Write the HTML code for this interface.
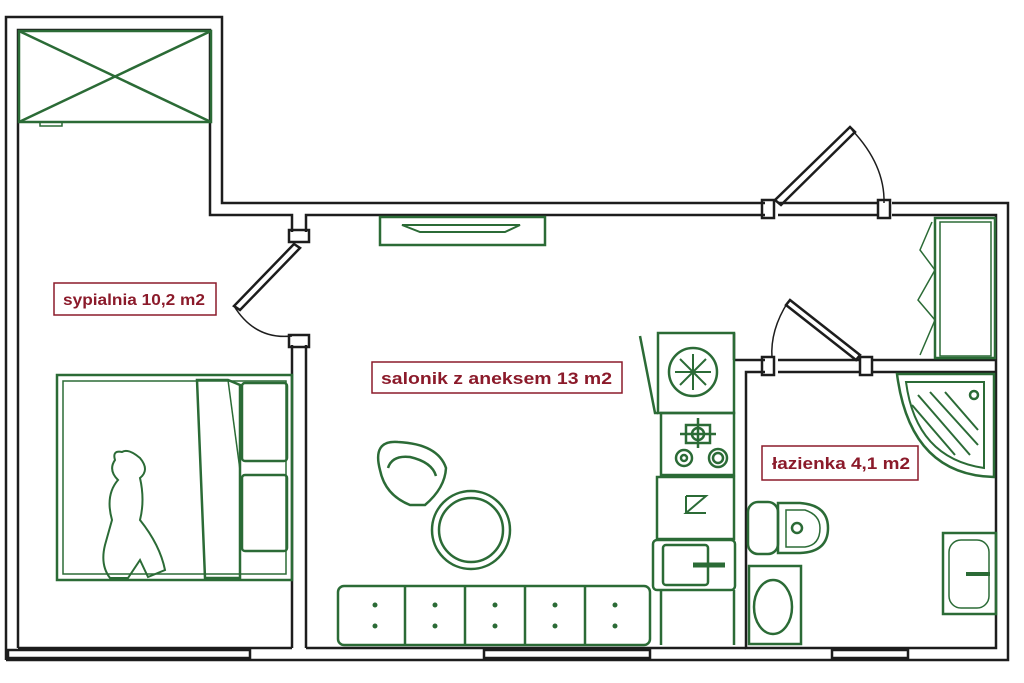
<!DOCTYPE html>
<html><head><meta charset="utf-8"><style>
html,body{margin:0;padding:0;background:#fff;width:1024px;height:683px;overflow:hidden}
svg{display:block}
text{font-family:"Liberation Sans",sans-serif;font-weight:bold;fill:#8b1a2a}
</style></head><body>
<svg width="1024" height="683" viewBox="0 0 1024 683" xmlns="http://www.w3.org/2000/svg">
<g fill="none" stroke="#1d1d1d" stroke-width="2.5">
<polyline points="6,660 6,17 222,17 222,203 765,203"/>
<line x1="778" y1="203" x2="878" y2="203"/>
<polyline points="892,203 1008,203 1008,660 6,660"/>
<polyline points="18,648 18,30 210,30 210,215 292,215 292,232"/>
<line x1="292" y1="345" x2="292" y2="648"/>
<polyline points="306,232 306,215 765,215"/>
<line x1="306" y1="345" x2="306" y2="648"/>
<line x1="778" y1="215" x2="878" y2="215"/>
<polyline points="892,215 996,215 996,648 746,648 746,372 765,372"/>
<line x1="778" y1="360" x2="860" y2="360"/>
<line x1="778" y1="372" x2="860" y2="372"/>
<polyline points="873,360 996,360"/>
<polyline points="873,372 996,372"/>
<line x1="734" y1="333" x2="734" y2="360"/>
<polyline points="734,360 765,360"/>
<line x1="18" y1="648" x2="292" y2="648"/>
<line x1="306" y1="648" x2="746" y2="648"/>
<rect x="289" y="230" width="20" height="12"/><rect x="289" y="335" width="20" height="12"/>
<rect x="762" y="200" width="12" height="18"/><rect x="878" y="200" width="12" height="18"/>
<rect x="762" y="357" width="12" height="18"/><rect x="860" y="357" width="12" height="18"/>
<polygon points="294,244 300,248 240,310 234,306"/>
<path d="M234,306 Q255,340 292,336" stroke-width="1.5"/>
<polygon points="775,200 850,127 855,132 781,205"/>
<path d="M852,130 Q885,165 884,203" stroke-width="1.5"/>
<polygon points="790,300 860,355 856,360 786,305"/>
<path d="M788,302 Q770,330 772,358" stroke-width="1.5"/>
<rect x="8" y="650" width="242" height="8"/>
<rect x="484" y="650" width="166" height="8"/>
<rect x="832" y="650" width="76" height="8"/>
</g>
<g fill="none" stroke="#2b6b36" stroke-width="2.5">
<rect x="19" y="31" width="192" height="91"/>
<line x1="19" y1="31" x2="211" y2="122"/><line x1="211" y1="31" x2="19" y2="122"/>
<rect x="40" y="122" width="22" height="4" stroke-width="1.5"/>
<rect x="57" y="375" width="235" height="205"/>
<rect x="63" y="381" width="223" height="193" stroke-width="1.5"/>
<rect x="242" y="383" width="45" height="78" rx="3"/>
<rect x="242" y="475" width="45" height="76" rx="3"/>
<path d="M197,380 L228,380 L240,385 L240,578 L205,578 Z"/>
<line x1="228" y1="380" x2="240" y2="470" stroke-width="1.5"/>
<path d="M115,460 Q112,450 122,452 Q128,448 140,458 Q150,470 140,478 Q145,500 140,520 Q160,545 165,570 L148,577 L140,560 L128,578 L110,578 Q100,565 105,545 L112,520 Q105,495 118,480 Q108,470 115,460 Z" stroke-width="2"/>
<rect x="380" y="217" width="165" height="28"/>
<path d="M402,225 L520,225 L505,232 L420,232 Z" stroke-width="2"/>
<rect x="935" y="218" width="60" height="140"/>
<rect x="940" y="222" width="51" height="134" stroke-width="1.5"/>
<polyline points="932,222 920,250 935,270 918,300 935,320 920,355" stroke-width="1.5"/>
<rect x="658" y="333" width="76" height="80"/>
<polyline points="640,336 655,413 658,413"/>
<circle cx="693" cy="372" r="24"/>
<g stroke-width="2"><line x1="693" y1="354" x2="693" y2="390"/><line x1="675" y1="372" x2="711" y2="372"/><line x1="680" y1="359" x2="706" y2="385"/><line x1="706" y1="359" x2="680" y2="385"/></g>
<rect x="661" y="413" width="73" height="62"/>
<rect x="686" y="425" width="24" height="18"/><circle cx="698" cy="434" r="6"/>
<line x1="680" y1="434" x2="716" y2="434"/><line x1="698" y1="418" x2="698" y2="448"/>
<circle cx="684" cy="458" r="8"/><circle cx="684" cy="458" r="3"/>
<circle cx="718" cy="458" r="9"/><circle cx="718" cy="458" r="5"/>
<rect x="657" y="477" width="77" height="62"/>
<path d="M686,496 L706,496 L686,513 L706,513 M686,496 L686,513" stroke-width="2"/>
<rect x="653" y="540" width="82" height="50" rx="4"/>
<rect x="663" y="545" width="45" height="40" rx="3"/>
<line x1="693" y1="565" x2="725" y2="565" stroke-width="5"/>
<line x1="661" y1="590" x2="661" y2="645"/><line x1="734" y1="590" x2="734" y2="645"/>
<rect x="338" y="586" width="312" height="59" rx="6"/>
<line x1="405" y1="586" x2="405" y2="645"/><line x1="465" y1="586" x2="465" y2="645"/>
<line x1="525" y1="586" x2="525" y2="645"/><line x1="585" y1="586" x2="585" y2="645"/>
<path d="M380,470 Q372,440 398,442 Q438,444 446,468 Q445,488 425,505 L410,505 Q385,495 380,470 Z"/>
<path d="M388,468 Q392,455 410,457 Q432,462 436,476"/>
<circle cx="471" cy="530" r="39"/><circle cx="471" cy="530" r="32"/>
<path d="M897,374 L994,374 L994,477 Q910,475 897,374 Z"/>
<path d="M906,382 L984,382 L984,468 Q916,458 906,382 Z" stroke-width="2"/>
<g stroke-width="2"><line x1="918" y1="395" x2="970" y2="455"/><line x1="930" y1="392" x2="978" y2="445"/><line x1="945" y1="392" x2="978" y2="430"/><line x1="912" y1="405" x2="955" y2="455"/></g>
<circle cx="974" cy="395" r="4"/>
<rect x="748" y="502" width="30" height="52" rx="10"/>
<path d="M778,503 L800,503 Q828,505 828,528 Q828,552 800,553 L778,553 Z"/>
<path d="M786,510 L805,510 Q820,515 820,528 Q820,545 805,547 L786,547 Z" stroke-width="1.5"/>
<circle cx="797" cy="528" r="5"/>
<rect x="749" y="566" width="52" height="78"/>
<ellipse cx="773" cy="607" rx="19" ry="27"/>
<rect x="943" y="533" width="53" height="81"/>
<rect x="949" y="540" width="40" height="68" rx="12" stroke-width="1.5"/>
<line x1="966" y1="574" x2="990" y2="574" stroke-width="4"/>
</g>
<g fill="#2b6b36">
<circle cx="375" cy="605" r="2.5"/><circle cx="375" cy="626" r="2.5"/>
<circle cx="435" cy="605" r="2.5"/><circle cx="435" cy="626" r="2.5"/>
<circle cx="495" cy="605" r="2.5"/><circle cx="495" cy="626" r="2.5"/>
<circle cx="555" cy="605" r="2.5"/><circle cx="555" cy="626" r="2.5"/>
<circle cx="615" cy="605" r="2.5"/><circle cx="615" cy="626" r="2.5"/>
</g>
<g fill="#fff" stroke="#8b1a2a" stroke-width="1.5">
<rect x="54" y="283" width="162" height="32"/>
<rect x="372" y="362" width="250" height="31"/>
<rect x="762" y="446" width="156" height="34"/>
</g>
<text x="63" y="305" font-size="16" textLength="142" lengthAdjust="spacingAndGlyphs">sypialnia 10,2 m2</text>
<text x="381" y="384" font-size="17" textLength="231" lengthAdjust="spacingAndGlyphs">salonik z aneksem 13 m2</text>
<text x="772" y="469" font-size="17" textLength="138" lengthAdjust="spacingAndGlyphs">łazienka 4,1 m2</text>
</svg>
</body></html>
